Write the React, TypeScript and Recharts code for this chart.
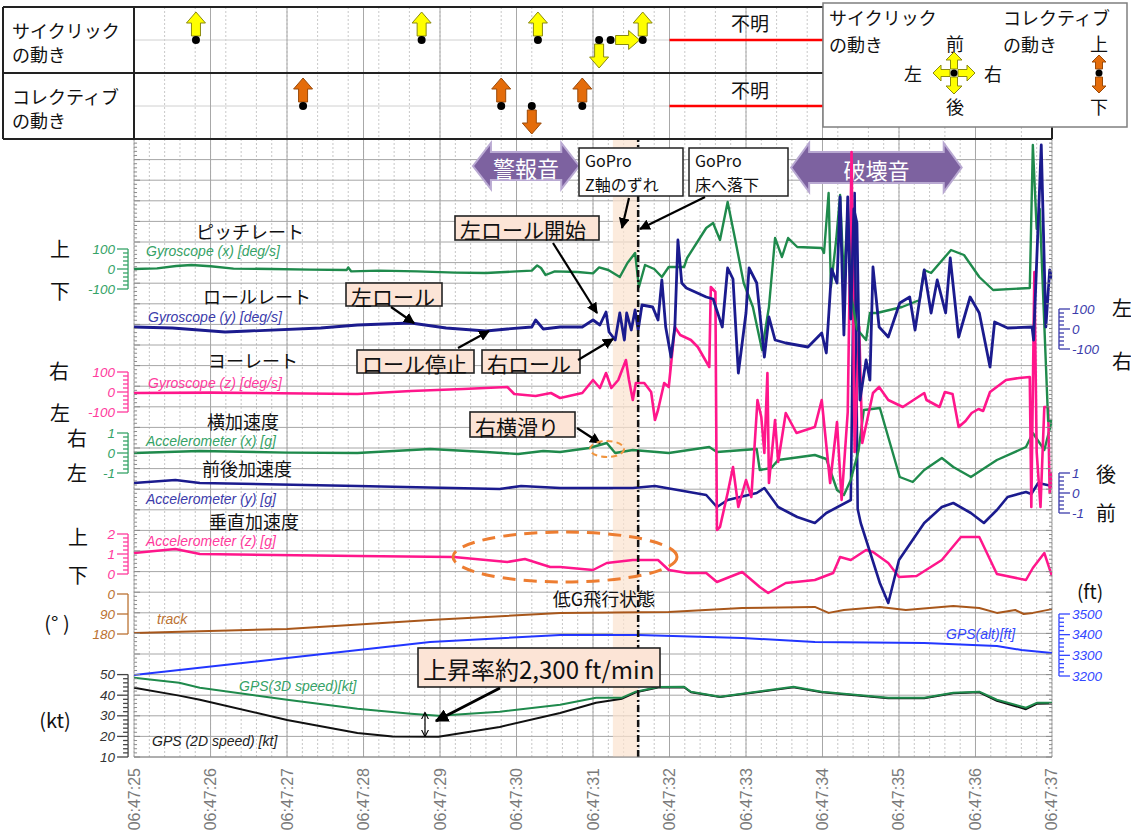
import React from "react";
import {
  CartesianGrid,
  Line,
  LineChart,
  ReferenceArea,
  ReferenceLine,
  Scatter,
  ScatterChart,
  XAxis,
  YAxis,
} from "recharts";

const JP = "'Noto Sans CJK JP', 'Noto Sans', sans-serif";
const LAT = "'Liberation Sans', Arial, sans-serif";

const W = 1131;
const H = 832;
// plot box in page pixels
const PL = 134;
const PR = 1052;
const PT = 139;
const PB = 757;

// seconds after 06:47:25
const timeTicks = [0, 1, 2, 3, 4, 5, 6, 7, 8, 9, 10, 11, 12];
const timeLabels = ["06:47:25", "06:47:26", "06:47:27", "06:47:28", "06:47:29", "06:47:30", "06:47:31", "06:47:32", "06:47:33", "06:47:34", "06:47:35", "06:47:36", "06:47:37"];
const minorTimes = Array.from({ length: 61 }, (_, i) => +(i * 0.2).toFixed(1));

type Pair = [number, number];

// pitch rate [deg/s]
const gyroX: Pair[] = [
  [0, 0], [0.3, 3], [0.55, 15], [0.75, 20], [1.0, 14], [1.3, 2], [1.8, 0], [2.3, -3], [2.78, -5], [2.8, 8], [2.84, -12],
  [3.2, -8], [3.7, -12], [4.2, -18], [4.6, -20], [5.0, -12], [5.2, -8], [5.27, 18], [5.32, 5], [5.38, -30], [5.5, -12],
  [5.8, -15], [6.0, -22], [6.08, 8], [6.2, -5], [6.35, -40], [6.45, 30], [6.55, 80], [6.6, -90], [6.68, 20], [6.8, 0],
  [6.9, -40], [6.99, 10], [7.19, 10], [7.23, 55], [7.48, 205], [7.57, 230], [7.66, 145], [7.76, 335], [7.86, 145],
  [7.97, -70], [8.09, -190], [8.21, -405], [8.3, -190], [8.38, 155], [8.47, 60], [8.55, 155], [8.67, 110], [8.99, 105],
  [9.02, 80], [9.08, 380], [9.11, -90], [9.18, 150], [9.23, 370], [9.28, -60], [9.33, 300], [9.37, -120], [9.45, -300],
  [9.57, -355], [9.62, -220], [9.71, -220], [10.04, -190], [10.27, -155], [10.33, -5], [10.42, -20], [10.68, 95],
  [10.85, 70], [11.05, -40], [11.23, -105], [11.71, -95], [11.75, 620], [11.8, 200], [11.84, 300], [11.95, -760], [12, -760],
];

// roll rate [deg/s]
const gyroY: Pair[] = [
  [0, 10], [0.5, 5], [1.19, -15], [1.5, -10], [2.44, 5], [2.92, 20], [3.62, 30], [4.08, 5], [4.6, -10], [4.88, 0],
  [5.2, 10], [5.25, 45], [5.35, 0], [5.57, 10], [5.86, 10], [6.0, 45], [6.09, 20], [6.17, 85], [6.21, -15], [6.29, -55],
  [6.35, 80], [6.41, -55], [6.44, 80], [6.5, -5], [6.55, 95], [6.59, -5], [6.64, 120], [6.78, 110], [6.85, 45],
  [6.9, 245], [6.95, 10], [7.02, -140], [7.07, 10], [7.11, 445], [7.16, 230], [7.22, 205], [7.48, 160], [7.57, 150],
  [7.69, 10], [7.76, 305], [7.83, 250], [7.9, -220], [8.0, 80], [8.04, 305], [8.14, 230], [8.24, -140], [8.3, 60],
  [8.38, -55], [8.52, -70], [8.81, -90], [8.99, -20], [9.05, -120], [9.12, 300], [9.19, 230], [9.23, 660], [9.28, -30],
  [9.33, 660], [9.37, 50], [9.41, 600], [9.45, 530], [9.49, -355], [9.57, -155], [9.62, -255], [9.66, 310],
  [9.74, 10], [9.86, -40], [10.01, 130], [10.14, 160], [10.21, -5], [10.33, 295], [10.42, 80], [10.5, 245],
  [10.61, 80], [10.67, 355], [10.78, -40], [10.93, 160], [11.05, 80], [11.19, -190], [11.25, 35], [11.42, 5],
  [11.74, 10], [11.76, -55], [11.86, 920], [11.92, 10], [11.97, 295], [12, 250],
];

// yaw rate [deg/s]
const gyroZ: Pair[] = [
  [0, -5], [1.0, -3], [2.92, -10], [3.62, 5], [4.3, 15], [4.88, 25], [4.97, -10], [5.25, -20], [5.45, -5], [5.57, -30],
  [5.86, -5], [6.0, 60], [6.09, 20], [6.17, 95], [6.24, 20], [6.33, 60], [6.43, 160], [6.47, 60], [6.52, -40],
  [6.56, 45], [6.67, 45], [6.76, 0], [6.81, -140], [6.85, -90], [6.93, 45], [6.99, 25], [7.07, 325], [7.14, 285],
  [7.28, 260], [7.37, 225], [7.52, 125], [7.54, 525], [7.6, 500], [7.62, -690], [7.66, -675], [7.76, -505],
  [7.83, -375], [7.9, -575], [8.0, -440], [8.07, -525], [8.15, -40], [8.2, -125], [8.24, -305], [8.28, 95],
  [8.3, -455], [8.38, -140], [8.42, -350], [8.52, -105], [8.66, -205], [8.9, -175], [8.99, -40], [9.1, -455],
  [9.19, -150], [9.25, -540], [9.33, -100], [9.38, 1200], [9.42, -300], [9.48, 325], [9.52, -255], [9.66, -5],
  [9.74, 25], [9.86, -40], [10.05, -75], [10.33, -5], [10.36, -40], [10.53, -75], [10.6, 0], [10.7, -10],
  [10.78, -175], [10.87, -145], [10.95, -105], [11.04, -85], [11.1, -95], [11.19, 0], [11.4, 60], [11.57, 70],
  [11.71, 75], [11.73, -575], [11.77, 600], [11.8, -300], [11.85, -575], [11.9, -75], [11.95, -75], [11.97, -505], [12, -400],
];

// lateral acceleration [g]
const accX: Pair[] = [
  [0, 0], [0.86, 0.1], [2.0, 0.02], [2.92, 0], [3.87, 0.2], [4.6, 0.05], [5.02, -0.05], [5.35, 0.1], [5.57, 0.05],
  [5.95, 0.25], [6.18, 0.5], [6.29, 0], [6.52, 0.15], [6.99, 0], [7.52, 0.3], [7.62, 0.05], [8.14, 0.2], [8.18, -0.85],
  [8.33, -0.75], [8.42, -0.35], [8.9, -0.1], [9.05, -0.3], [9.19, -1.85], [9.28, -2.1], [9.37, -1.35], [9.47, 0.1],
  [9.54, 2.15], [9.75, 2.25], [10.01, -1.2], [10.18, -1.45], [10.33, -0.85], [10.56, -0.25], [10.71, -0.7],
  [10.94, -1.2], [11.28, -0.35], [11.66, 0.3], [11.75, 1.0], [11.9, 0.15], [12, 1.65],
];

// longitudinal acceleration [g]
const accY: Pair[] = [
  [0, 0.5], [0.54, 0.65], [0.86, 0.5], [2.92, 0.35], [4.78, 0.2], [5.06, 0.35], [5.57, 0.25], [6.52, 0.25],
  [6.81, 0.35], [7.48, -0.1], [7.62, -0.7], [7.76, -0.35], [8.14, 0], [8.24, 0.25], [8.42, -0.7], [8.67, -1.2],
  [8.9, -1.5], [9.05, -1.0], [9.37, -0.35], [9.42, 15], [9.46, -0.8], [9.5, -1.5], [9.75, -4.5], [9.86, -5.5],
  [10.0, -3.35], [10.33, -1.5], [10.56, -0.7], [10.71, -0.5], [10.94, -1.0], [11.11, -1.5], [11.28, -0.85],
  [11.42, -0.2], [11.66, 0.05], [11.73, -0.05], [11.82, 0.5], [12, 0.35],
];

// vertical acceleration [g]
const accZ: Pair[] = [
  [0, 1.05], [0.54, 1.25], [0.86, 1.0], [2.92, 0.9], [4.18, 0.85], [4.88, 0.6], [5.11, 0.75], [5.44, 0.35],
  [5.57, 0.35], [6.0, 0.2], [6.18, 0.55], [6.52, 0.7], [6.71, 0.7], [6.85, 0.7], [6.99, 0.2], [7.23, 0.05],
  [7.48, 0.05], [7.62, -0.4], [7.95, 0.1], [8.18, -0.65], [8.29, -0.95], [8.52, -0.45], [8.9, -0.3], [9.14, 0.05],
  [9.23, 0.85], [9.37, 0.7], [9.57, 1.2], [9.66, 1.1], [9.86, 0.55], [10.0, -0.15], [10.23, -0.1], [10.56, 0.7],
  [10.81, 1.85], [11.05, 1.85], [11.28, 0.0], [11.66, -0.3], [11.75, 0.3], [11.9, 1.05], [12, -0.1],
];

// GPS track [deg]
const track: Pair[] = [
  [0, 175], [2.0, 157], [3.87, 117], [5.57, 85], [6.99, 81], [7.95, 63], [8.9, 58], [9.08, 85], [9.28, 72],
  [9.75, 58], [10.09, 72], [10.71, 54], [11.05, 63], [11.28, 85], [11.52, 72], [11.63, 90], [11.75, 85], [12, 68],
];

// GPS altitude [ft]
const gpsAlt: Pair[] = [
  [0, 3205], [2.0, 3287], [3.87, 3365], [5.57, 3398], [6.59, 3398], [7.95, 3384], [8.9, 3365], [10.33, 3360],
  [11.28, 3345], [11.6, 3326], [12, 3311],
];

// GPS speeds [kt]
const speed3D: Pair[] = [
  [0, 48.5], [0.59, 46], [0.86, 43.6], [2.0, 37.8], [2.92, 33.4], [3.62, 31], [3.98, 30], [4.78, 32], [5.57, 35.4],
  [6.04, 38.8], [6.38, 38.8], [6.56, 41.7], [6.85, 44], [7.19, 44.1], [7.28, 41.7], [7.66, 39.3], [8.62, 44.1],
  [8.99, 41.7], [9.86, 38.8], [10.33, 38.8], [10.71, 41.2], [11.05, 41.7], [11.28, 37.8], [11.66, 33.9], [11.8, 36.3], [12, 36.3],
];
const speed2D: Pair[] = [
  [0, 43.6], [0.59, 39.8], [0.86, 37.8], [2.0, 28], [2.92, 21.7], [3.38, 20], [3.98, 19.8], [4.78, 24.6],
  [5.57, 31.4], [6.04, 36.3], [6.38, 38.3], [6.56, 41.4], [6.85, 43.7], [7.19, 43.9], [7.28, 41.4], [7.66, 39.1],
  [8.62, 43.8], [8.99, 41.4], [9.86, 38.5], [10.33, 38.5], [10.71, 40.9], [11.05, 41.4], [11.28, 37.3], [11.66, 33.2], [11.8, 35.8], [12, 36],
];

// stick inputs (top table)
const cyclicMoves = [
  { t: 0.81, dir: "up" }, { t: 3.76, dir: "up" }, { t: 5.28, dir: "up" },
  { t: 6.08, dir: "down" }, { t: 6.23, dir: "right" }, { t: 6.65, dir: "up" },
];
const collectiveMoves = [
  { t: 2.21, dir: "up" }, { t: 4.8, dir: "up" }, { t: 5.2, dir: "down" }, { t: 5.86, dir: "up" },
];
const unknownFrom = 7.0;

// sound events [s]
const warningSound: Pair = [4.43, 5.82];
const breakSound: Pair = [8.59, 10.82];

const gyroMajors = [-100, 0, 100];
const accMajors = [-1, 0, 1];
const accZMajors = [0, 1, 2];
const trackTicks = [0, 90, 180];
const altMajors = [3200, 3300, 3400, 3500];

const C = {
  green: "#1f8a4c",
  navy: "#1b1b8e",
  pink: "#ff168b",
  brown: "#a8571b",
  blue: "#2236ff",
  black: "#111111",
};
const AC = {
  green: "#35a266",
  navy: "#3b3bab",
  pink: "#ff3a9d",
  brown: "#bb7232",
  blue: "#3447ff",
};

const toPts = (s: Pair[]) => s.map(([t, v]) => ({ t, v }));
const range = (lo: number, hi: number, n: number) =>
  Array.from({ length: n + 1 }, (_, i) => +(lo + ((hi - lo) * i) / n).toFixed(4));

// vertical placement of every stacked trace: pixel of value 0 and px per unit
const band = (y0: number, k: number): [number, number] => [-(PB - y0) / k, (y0 - PT) / k];
const altK = 62 / 300;
const trackK = 40 / 180;
const ktK = (PB - PT) / 300;
const ktAt = (px: number) => 10 + (PB - px) / ktK;

function sideTick(o: {
  side: "left" | "right";
  color: string;
  majors: number[];
  top: number;
  stepPx: number;
}) {
  return (p: any) => {
    const v = +(+p.payload.value).toFixed(3);
    const s = o.side === "left" ? -1 : 1;
    const sx = p.x + s * (o.side === "left" ? 6 : 7);
    const major = o.majors.some((m) => Math.abs(m - v) < 1e-6);
    const len = major ? 11 : 5;
    return (
      <g>
        {Math.abs(v - o.top) > 1e-6 && (
          <line x1={sx} y1={p.y} x2={sx} y2={p.y - o.stepPx} stroke={o.color} strokeWidth={1.3} />
        )}
        <line x1={sx} y1={p.y} x2={sx + s * len} y2={p.y} stroke={o.color} strokeWidth={1.3} />
        {major && (
          <text
            x={sx + s * (len + 2)}
            y={p.y}
            textAnchor={o.side === "left" ? "end" : "start"}
            dominantBaseline="central"
            fill={o.color}
            fontSize={13.5}
            fontStyle="italic"
            fontFamily={LAT}
          >
            {String(v)}
          </text>
        )}
      </g>
    );
  };
}

const ktTick = (p: any) => {
  const v = Math.round(p.payload.value);
  const major = v % 10 === 0;
  const inner = major ? 6 : 3;
  const sx = p.x - 6;
  return (
    <g>
      <line x1={p.x} x2={p.x + inner} y1={p.y} y2={p.y} stroke="#8a8a8a" />
      <line x1={PR} x2={PR - inner} y1={p.y} y2={p.y} stroke="#8a8a8a" />
      {v < 50 && <line x1={sx} x2={sx} y1={p.y} y2={p.y - 2 * ktK} stroke="#444" strokeWidth={1.3} />}
      {v <= 50 && <line x1={sx} x2={sx - (major ? 11 : 5)} y1={p.y} y2={p.y} stroke="#444" strokeWidth={1.3} />}
      {v <= 50 && major && (
        <text x={sx - 13} y={p.y} textAnchor="end" dominantBaseline="central" fill="#333" fontSize={13.5} fontStyle="italic" fontFamily={LAT}>
          {v}
        </text>
      )}
    </g>
  );
};

const timeTick = (p: any) => {
  const i = timeTicks.indexOf(Math.round(p.payload.value));
  const y = p.y + 11;
  return (
    <text x={p.x} y={y} transform={`rotate(-90 ${p.x} ${y})`} textAnchor="end" dominantBaseline="central" fill="#7a7a7a" fontSize={16} fontFamily={LAT}>
      {timeLabels[i]}
    </text>
  );
};

function arrowPoly(x1: number, y1: number, x2: number, y2: number, sw = 4.5, hw = 9.5, hl = 11) {
  const dx = x2 - x1;
  const dy = y2 - y1;
  const L = Math.hypot(dx, dy);
  const ux = dx / L;
  const uy = dy / L;
  const px = -uy;
  const py = ux;
  const bx = x2 - ux * hl;
  const by = y2 - uy * hl;
  const pts = [
    [x1 + px * sw, y1 + py * sw],
    [bx + px * sw, by + py * sw],
    [bx + px * hw, by + py * hw],
    [x2, y2],
    [bx - px * hw, by - py * hw],
    [bx - px * sw, by - py * sw],
    [x1 - px * sw, y1 - py * sw],
  ];
  return pts.map((q) => q.join(",")).join(" ");
}

const YEL = { fill: "#ffff00", stroke: "#8a8a10" };
const ORA = { fill: "#e46c0a", stroke: "#9a4a0a" };

function moveShape(col: { fill: string; stroke: string }) {
  return (p: any) => {
    const { cx, cy, payload } = p;
    let poly = "";
    if (payload.dir === "up") poly = arrowPoly(cx, cy - 4, cx, cy - 28);
    if (payload.dir === "down") poly = arrowPoly(cx, cy + 4, cx, cy + 28);
    if (payload.dir === "right") poly = arrowPoly(cx + 5, cy, cx + 29, cy);
    return (
      <g>
        <polygon points={poly} fill={col.fill} stroke={col.stroke} strokeWidth={1} />
        <circle cx={cx} cy={cy} r={4} fill="#000" />
      </g>
    );
  };
}

// double-headed purple arrow filling a reference area
function soundShape(text: string) {
  return (p: any) => {
    const x1 = p.x;
    const x2 = p.x + p.width;
    const y1 = p.y;
    const y2 = p.y + p.height;
    const h = 18;
    const ins = 9;
    const m = (y1 + y2) / 2;
    const pts = [
      [x1, m], [x1 + h, y1], [x1 + h, y1 + ins], [x2 - h, y1 + ins], [x2 - h, y1], [x2, m],
      [x2 - h, y2], [x2 - h, y2 - ins], [x1 + h, y2 - ins], [x1 + h, y2],
    ].map((q) => q.join(",")).join(" ");
    return (
      <g>
        <polygon points={pts} fill="#7d62a0" stroke="#b9a9d2" strokeWidth={2} />
        <text x={(x1 + x2) / 2} y={m + 1} textAnchor="middle" dominantBaseline="central" fill="#fff" fontSize={22} fontFamily={JP}>
          {text}
        </text>
      </g>
    );
  };
}

function Callout({ x, y, w, h, text, size = 21 }: { x: number; y: number; w: number; h: number; text: string; size?: number }) {
  return (
    <g>
      <rect x={x} y={y} width={w} height={h} fill="#fce4d6" stroke="#222" strokeWidth={1.6} />
      <text x={x + 5} y={y + h / 2 + 1} dominantBaseline="central" fontSize={size} fontFamily={JP} fill="#111">
        {text}
      </text>
    </g>
  );
}

function Arrow({ x1, y1, x2, y2 }: { x1: number; y1: number; x2: number; y2: number }) {
  return <line x1={x1} y1={y1} x2={x2} y2={y2} stroke="#000" strokeWidth={2.2} markerEnd="url(#ah)" />;
}

function T({ x, y, children, size = 19, color = "#111", anchor = "middle", font = JP, italic = false }: any) {
  return (
    <text
      x={x}
      y={y}
      textAnchor={anchor}
      dominantBaseline="central"
      fontSize={size}
      fill={color}
      fontFamily={font}
      fontStyle={italic ? "italic" : "normal"}
    >
      {children}
    </text>
  );
}

const lineProps = { dot: false, isAnimationActive: false, type: "linear" as const, dataKey: "v", strokeLinejoin: "round" as const };

export default function App() {
  const gx = band(269, 0.2);
  const gy = band(329, 0.2);
  const gz = band(392, 0.2);
  const ax = band(453, 20);
  const ay = band(493, 20);
  const az = band(574, 20);
  const trk: [number, number] = [-(594 - PT) / trackK, (PB - 594) / trackK];
  const alt: [number, number] = [3200 - (PB - 676) / altK, 3500 + (614 - PT) / altK];

  // axes share the plot edge: a tiny width keeps them drawn without shifting the plot
  const thin = { width: 0.01, tickLine: false, axisLine: false, tickSize: 0, tickMargin: 0, interval: 0 as const, allowDataOverflow: true, type: "number" as const };

  return (
    <div style={{ position: "absolute", left: 0, top: 0, width: W, height: H, background: "#fff", overflow: "hidden" }}>
      {/* flight data */}
      <div style={{ position: "absolute", left: 0, top: 0, zIndex: 1 }}>
        <LineChart width={W} height={H} margin={{ top: PT, right: W - PR, bottom: 0, left: PL }}>
          <CartesianGrid horizontal={false} verticalValues={minorTimes} stroke="#c6c6c6" strokeDasharray="2 2" />
          <CartesianGrid horizontalValues={range(10, 310, 30)} verticalValues={timeTicks} stroke="#a6a6a6" />
          <XAxis
            type="number"
            dataKey="t"
            domain={[0, 12]}
            ticks={timeTicks}
            interval={0}
            height={H - PB}
            allowDataOverflow
            tick={timeTick}
            tickLine={false}
            tickSize={0}
            tickMargin={0}
            axisLine={{ stroke: "#8a8a8a" }}
          />
          <YAxis {...thin} domain={[10, 310]} ticks={range(10, 310, 150)} tick={ktTick} />
          <YAxis {...thin} yAxisId="gx" domain={gx} ticks={range(-100, 100, 10)} tick={sideTick({ side: "left", color: AC.green, majors: gyroMajors, top: 100, stepPx: 4 })} />
          <YAxis {...thin} yAxisId="gz" domain={gz} ticks={range(-100, 100, 10)} tick={sideTick({ side: "left", color: AC.pink, majors: gyroMajors, top: 100, stepPx: 4 })} />
          <YAxis {...thin} yAxisId="ax" domain={ax} ticks={range(-1, 1, 10)} tick={sideTick({ side: "left", color: AC.green, majors: accMajors, top: 1, stepPx: 4 })} />
          <YAxis {...thin} yAxisId="az" domain={az} ticks={range(0, 2, 10)} tick={sideTick({ side: "left", color: AC.pink, majors: accZMajors, top: 2, stepPx: 4 })} />
          <YAxis {...thin} yAxisId="trk" domain={trk} reversed ticks={trackTicks} tick={sideTick({ side: "left", color: AC.brown, majors: trackTicks, top: 0, stepPx: 90 * trackK })} />
          <YAxis {...thin} yAxisId="gy" orientation="right" domain={gy} ticks={range(-100, 100, 10)} tick={sideTick({ side: "right", color: AC.navy, majors: gyroMajors, top: 100, stepPx: 4 })} />
          <YAxis {...thin} yAxisId="ay" orientation="right" domain={ay} ticks={range(-1, 1, 10)} tick={sideTick({ side: "right", color: AC.navy, majors: accMajors, top: 1, stepPx: 4 })} />
          <YAxis {...thin} yAxisId="alt" orientation="right" domain={alt} ticks={range(3200, 3500, 15)} tick={sideTick({ side: "right", color: AC.blue, majors: altMajors, top: 3500, stepPx: 20 * altK })} />

          <ReferenceArea x1={warningSound[0]} x2={warningSound[1]} y1={ktAt(189)} y2={ktAt(143)} shape={soundShape("警報音")} />
          <ReferenceArea x1={breakSound[0]} x2={breakSound[1]} y1={ktAt(192)} y2={ktAt(143)} shape={soundShape("破壊音")} />
          <ReferenceArea x1={6.26} x2={6.59} fill="#fbe2cf" fillOpacity={0.7} stroke="none" />

          <Line {...lineProps} data={toPts(track)} yAxisId="trk" stroke={C.brown} strokeWidth={2} />
          <Line {...lineProps} data={toPts(gpsAlt)} yAxisId="alt" stroke={C.blue} strokeWidth={2} />
          <Line {...lineProps} data={toPts(speed2D)} stroke={C.black} strokeWidth={2} />
          <Line {...lineProps} data={toPts(speed3D)} stroke={C.green} strokeWidth={2} />
          <Line {...lineProps} data={toPts(accZ)} yAxisId="az" stroke={C.pink} strokeWidth={2.5} />
          <Line {...lineProps} data={toPts(accY)} yAxisId="ay" stroke={C.navy} strokeWidth={2.6} />
          <Line {...lineProps} data={toPts(accX)} yAxisId="ax" stroke={C.green} strokeWidth={2.4} />
          <Line {...lineProps} data={toPts(gyroZ)} yAxisId="gz" stroke={C.pink} strokeWidth={2.6} />
          <Line {...lineProps} data={toPts(gyroX)} yAxisId="gx" stroke={C.green} strokeWidth={2.4} />
          <Line {...lineProps} data={toPts(gyroY)} yAxisId="gy" stroke={C.navy} strokeWidth={2.8} />

          <ReferenceLine x={6.59} stroke="#111" strokeWidth={2.5} strokeDasharray="7 3 2 3" />
        </LineChart>
      </div>

      {/* stick input table, drawn over the plot's upper edge */}
      <div style={{ position: "absolute", left: 0, top: 0, zIndex: 2, background: "#fff", width: W, height: PT }}>
        <ScatterChart width={W} height={141} margin={{ top: 7, right: W - PR, bottom: 2, left: PL }}>
          <CartesianGrid horizontal={false} verticalValues={minorTimes} stroke="#c9c9c9" strokeDasharray="2 2" />
          <CartesianGrid vertical={false} horizontalValues={[0.5, 1.5]} stroke="#d0d0d0" />
          <CartesianGrid horizontal={false} verticalValues={timeTicks} stroke="#a8a8a8" />
          <XAxis type="number" dataKey="t" domain={[0, 12]} hide allowDataOverflow />
          <YAxis type="number" dataKey="y" domain={[0, 2]} hide allowDataOverflow />
          <ReferenceLine segment={[{ x: unknownFrom, y: 1.5 }, { x: 12, y: 1.5 }]} stroke="#ff0000" strokeWidth={2.5} />
          <ReferenceLine segment={[{ x: unknownFrom, y: 0.5 }, { x: 12, y: 0.5 }]} stroke="#ff0000" strokeWidth={2.5} />
          <Scatter data={cyclicMoves.map((d) => ({ ...d, y: 1.5 }))} shape={moveShape(YEL)} isAnimationActive={false} />
          <Scatter data={collectiveMoves.map((d) => ({ ...d, y: 0.5 }))} shape={moveShape(ORA)} isAnimationActive={false} />
        </ScatterChart>
      </div>

      {/* annotations */}
      <svg width={W} height={H} style={{ position: "absolute", left: 0, top: 0, pointerEvents: "none", zIndex: 3 }}>
        <defs>
          <marker id="ah" viewBox="0 0 10 10" refX="9" refY="5" markerWidth="5" markerHeight="5" orient="auto">
            <path d="M0,0 L10,5 L0,10 z" fill="#000" />
          </marker>
          <marker id="ahBig" viewBox="0 0 10 10" refX="9" refY="5" markerWidth="4.5" markerHeight="4.5" orient="auto">
            <path d="M0,0 L10,5 L0,10 z" fill="#000" />
          </marker>
          <marker id="ahOpen" viewBox="0 0 10 10" refX="9" refY="5" markerWidth="6" markerHeight="6" orient="auto-start-reverse">
            <path d="M0,0 L10,5 L0,10" fill="none" stroke="#000" strokeWidth={1.5} />
          </marker>
        </defs>

        {/* table frame */}
        <g stroke="#222" strokeWidth={2}>
          <line x1={3} y1={7} x2={PR} y2={7} />
          <line x1={3} y1={73} x2={PR} y2={73} />
          <line x1={3} y1={PT} x2={PR} y2={PT} />
          <line x1={3} y1={7} x2={3} y2={PT} />
          <line x1={PL} y1={7} x2={PL} y2={PT} />
          <line x1={PR} y1={7} x2={PR} y2={PT} />
        </g>
        <T x={12} y={30} anchor="start" size={18}>サイクリック</T>
        <T x={12} y={54} anchor="start" size={18}>の動き</T>
        <T x={12} y={96} anchor="start" size={18}>コレクティブ</T>
        <T x={12} y={120} anchor="start" size={18}>の動き</T>
        <T x={750} y={22} size={19}>不明</T>
        <T x={750} y={89} size={19}>不明</T>

        {/* legend */}
        <rect x={823} y={3} width={304} height={124} fill="#fff" stroke="#7f7f7f" strokeWidth={1.5} />
        <T x={829} y={17} anchor="start" size={18}>サイクリック</T>
        <T x={829} y={44} anchor="start" size={18}>の動き</T>
        <T x={1003} y={17} anchor="start" size={18}>コレクティブ</T>
        <T x={1003} y={44} anchor="start" size={18}>の動き</T>
        <T x={955} y={43} size={18}>前</T>
        <T x={913} y={73} size={18}>左</T>
        <T x={993} y={73} size={18}>右</T>
        <T x={955} y={106} size={18}>後</T>
        <T x={1099} y={43} size={18}>上</T>
        <T x={1099} y={106} size={18}>下</T>
        <g fill={YEL.fill} stroke={YEL.stroke} strokeWidth={1}>
          <polygon points={arrowPoly(954, 69, 954, 52, 3.5, 8, 8)} />
          <polygon points={arrowPoly(954, 77, 954, 94, 3.5, 8, 8)} />
          <polygon points={arrowPoly(950, 73, 933, 73, 3.5, 8, 8)} />
          <polygon points={arrowPoly(958, 73, 975, 73, 3.5, 8, 8)} />
        </g>
        <circle cx={954} cy={73} r={3.5} fill="#000" />
        <g fill={ORA.fill} stroke={ORA.stroke} strokeWidth={1}>
          <polygon points={arrowPoly(1099, 69, 1099, 55, 3.5, 7, 7)} />
          <polygon points={arrowPoly(1099, 77, 1099, 93, 3.5, 7, 7)} />
        </g>
        <circle cx={1099} cy={73} r={3.5} fill="#000" />

        {/* camera notes */}
        <rect x={579} y={148} width={104} height={48} fill="#fff" stroke="#222" strokeWidth={1.5} />
        <T x={585} y={160} anchor="start" size={16}>GoPro</T>
        <T x={585} y={184} anchor="start" size={16}>Z軸のずれ</T>
        <rect x={689} y={148} width={99} height={48} fill="#fff" stroke="#222" strokeWidth={1.5} />
        <T x={695} y={160} anchor="start" size={16}>GoPro</T>
        <T x={695} y={184} anchor="start" size={16}>床へ落下</T>
        <Arrow x1={629} y1={198} x2={622} y2={228} />
        <Arrow x1={705} y1={197} x2={640} y2={229} />

        <Callout x={455} y={216} w={144} h={24} text="左ロール開始" />
        <Arrow x1={553} y1={243} x2={597} y2={313} />
        <Callout x={346} y={283} w={96} h={23} text="左ロール" />
        <Arrow x1={391} y1={307} x2={414} y2={323} />
        <Callout x={357} y={350} w={117} h={23} text="ロール停止" />
        <Arrow x1={458} y1={348} x2={489} y2={331} />
        <Callout x={482} y={350} w={98} h={23} text="右ロール" />
        <Arrow x1={578} y1={360} x2={613} y2={339} />
        <Callout x={470} y={412} w={105} h={25} text="右横滑り" />
        <Arrow x1={577} y1={428} x2={600} y2={443} />
        <ellipse cx={607} cy={449} rx={17} ry={8} fill="none" stroke="#f0953f" strokeWidth={2} strokeDasharray="6 4" />
        <ellipse cx={565} cy={557} rx={112} ry={25} fill="none" stroke="#ed7d31" strokeWidth={3} strokeDasharray="13 8" />
        <T x={604} y={598} size={18}>低G飛行状態</T>

        <Callout x={418} y={648} w={242} h={39} text="上昇率約2,300 ft/min" size={24} />
        <line x1={500} y1={688} x2={436} y2={721} stroke="#000" strokeWidth={3} markerEnd="url(#ahBig)" />
        <line x1={425} y1={713} x2={425} y2={736} stroke="#000" strokeWidth={1.2} markerStart="url(#ahOpen)" markerEnd="url(#ahOpen)" />

        {/* trace names */}
        <T x={250} y={231} size={18}>ピッチレート</T>
        <T x={257} y={296} size={18}>ロールレート</T>
        <T x={253} y={360} size={18}>ヨーレート</T>
        <T x={243} y={421} size={18}>横加速度</T>
        <T x={247} y={468} size={18}>前後加速度</T>
        <T x={254} y={521} size={18}>垂直加速度</T>
        <T x={146} y={251} anchor="start" size={14} font={LAT} italic color={AC.green}>Gyroscope (x) [deg/s]</T>
        <T x={148} y={317} anchor="start" size={14} font={LAT} italic color={AC.navy}>Gyroscope (y) [deg/s]</T>
        <T x={148} y={383} anchor="start" size={14} font={LAT} italic color={AC.pink}>Gyroscope (z) [deg/s]</T>
        <T x={146} y={441} anchor="start" size={14} font={LAT} italic color={AC.green}>Accelerometer (x) [g]</T>
        <T x={146} y={499} anchor="start" size={14} font={LAT} italic color={AC.navy}>Accelerometer (y) [g]</T>
        <T x={146} y={541} anchor="start" size={14} font={LAT} italic color={AC.pink}>Accelerometer (z) [g]</T>
        <T x={157} y={619} anchor="start" size={14} font={LAT} italic color={AC.brown}>track</T>
        <T x={239} y={686} anchor="start" size={14} font={LAT} italic color={AC.green}>GPS(3D speed)[kt]</T>
        <T x={152} y={741} anchor="start" size={14} font={LAT} italic color="#222">GPS (2D speed) [kt]</T>
        <T x={946} y={634} anchor="start" size={14} font={LAT} italic color={AC.blue}>GPS(alt)[ft]</T>

        {/* direction hints */}
        <T x={60} y={248} size={20}>上</T>
        <T x={60} y={290} size={20}>下</T>
        <T x={59} y={370} size={20}>右</T>
        <T x={60} y={412} size={20}>左</T>
        <T x={77} y={437} size={20}>右</T>
        <T x={77} y={472} size={20}>左</T>
        <T x={78} y={536} size={20}>上</T>
        <T x={78} y={574} size={20}>下</T>
        <T x={57} y={622} size={20}>(°  )</T>
        <T x={55} y={719} size={20}>(kt)</T>
        <T x={1122} y={307} size={20}>左</T>
        <T x={1122} y={360} size={20}>右</T>
        <T x={1106} y={473} size={20}>後</T>
        <T x={1106} y={512} size={20}>前</T>
        <T x={1090} y={590} size={19}>(ft)</T>
      </svg>
    </div>
  );
}
